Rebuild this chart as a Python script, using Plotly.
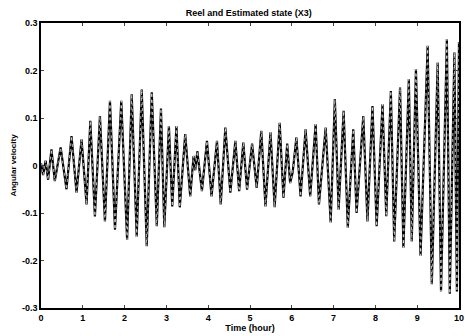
import plotly.graph_objects as go

# Extrema of the real state (time in hours, angular velocity)
time_h = [0, 0.05, 0.11, 0.17, 0.25, 0.33, 0.47, 0.61, 0.73, 0.85, 0.97, 1.09, 1.18, 1.29,
          1.41, 1.53, 1.65, 1.77, 1.92, 2.06, 2.17, 2.29, 2.41, 2.53, 2.65, 2.77, 2.87, 2.95,
          3.06, 3.14, 3.24, 3.32, 3.45, 3.57, 3.65, 3.69, 3.74, 3.85, 3.97, 4.08, 4.21, 4.30,
          4.41, 4.53, 4.65, 4.74, 4.84, 4.93, 5.05, 5.16, 5.27, 5.37, 5.49, 5.59, 5.71, 5.80,
          5.89, 5.96, 6.02, 6.11, 6.21, 6.33, 6.44, 6.57, 6.65, 6.81, 6.93, 7.03, 7.12, 7.24,
          7.34, 7.47, 7.55, 7.71, 7.81, 7.93, 8.03, 8.17, 8.26, 8.37, 8.45, 8.59, 8.67, 8.80,
          8.87, 8.97, 9.08, 9.25, 9.35, 9.49, 9.57, 9.71, 9.78, 9.89, 9.95, 10.0]
real_x3 = [0.005, -0.02, 0.01, -0.03, 0.034, -0.033, 0.038, -0.05, 0.062, -0.057, 0.055, -0.082,
           0.094, -0.107, 0.104, -0.118, 0.136, -0.135, 0.136, -0.156, 0.15, -0.15, 0.16, -0.17,
           0.154, -0.128, 0.12, -0.13, 0.083, -0.086, 0.083, -0.088, 0.066, -0.065, 0.02, -0.01,
           0.03, -0.054, 0.052, -0.065, 0.052, -0.082, 0.08, -0.057, 0.052, -0.054, 0.048, -0.051,
           0.046, -0.047, 0.073, -0.086, 0.07, -0.088, 0.09, -0.068, 0.046, -0.037, -0.015, 0.059,
           -0.065, 0.076, -0.065, 0.087, -0.082, 0.08, -0.12, 0.14, -0.093, 0.115, -0.131, 0.076,
           -0.1, 0.104, -0.118, 0.125, -0.128, 0.129, -0.107, 0.157, -0.16, 0.164, -0.173, 0.182,
           -0.16, 0.203, -0.19, 0.252, -0.25, 0.217, -0.265, 0.266, -0.27, 0.238, -0.265, 0.26]
estimated_x3 = list(real_x3)

x_ticks = [0, 1, 2, 3, 4, 5, 6, 7, 8, 9, 10]
y_ticks = [-0.3, -0.2, -0.1, 0, 0.1, 0.2, 0.3]
y_tick_text = ["-0.3", "-0.2", "-0.1", "0", "0.1", "0.2", "0.3"]

fig = go.Figure()
fig.add_trace(go.Scatter(x=time_h, y=real_x3, mode="lines", name="Real",
                         line=dict(color="black", width=2.2)))
fig.add_trace(go.Scatter(x=time_h, y=estimated_x3, mode="lines", name="Estimated",
                         line=dict(color="white", width=0.7, dash="dot")))

font = dict(family="Liberation Sans, Arial, sans-serif", size=9, color="black", weight="bold")
fig.update_layout(
    width=465, height=336,
    margin=dict(l=41, r=6, t=23, b=28, autoexpand=False),
    paper_bgcolor="white", plot_bgcolor="white",
    showlegend=False,
    font=font,
    title=dict(text="Reel and Estimated state (X3)", x=0.535, xanchor="center",
               y=0.962, yanchor="middle", font=font),
)
fig.update_xaxes(range=[0, 10], tickvals=x_ticks, ticks="inside", ticklen=3,
                 showgrid=False, zeroline=False, showline=True, linecolor="black",
                 linewidth=1.5, mirror="ticks", tickfont=font, automargin=False,
                 title=dict(text="Time (hour)", font=font, standoff=0))
fig.update_yaxes(range=[-0.3, 0.3], tickvals=y_ticks, ticktext=y_tick_text, ticks="inside",
                 ticklen=3, showgrid=False, zeroline=False, showline=True, linecolor="black",
                 linewidth=1.5, mirror="ticks", tickfont=font, automargin=False,
                 title=dict(text="Angular velocity", font=dict(family=font["family"], size=8,
                            color="black", weight="bold"), standoff=4))

fig.write_html("out.html", config={"displayModeBar": False},
               post_script="document.body.style.margin='0';document.body.style.overflow='hidden';")
